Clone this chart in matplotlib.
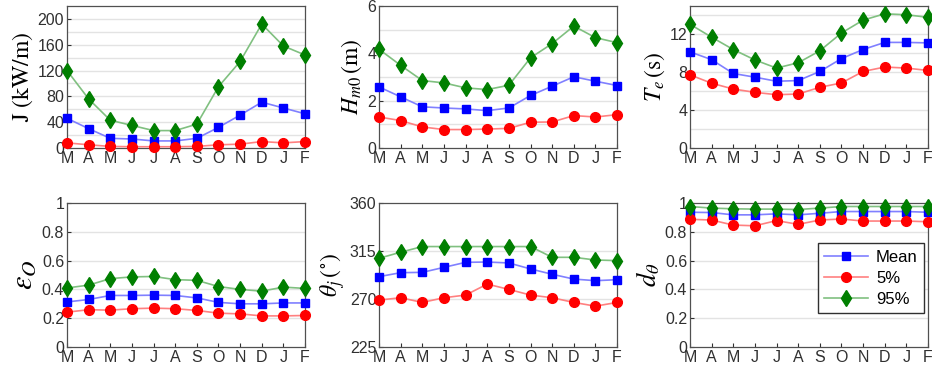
import matplotlib
matplotlib.use('Agg')
import matplotlib.pyplot as plt
import numpy as np

months = ['M', 'A', 'M', 'J', 'J', 'A', 'S', 'O', 'N', 'D', 'J', 'F']

# wave power J (kW/m)
J_mean = [46, 30, 15, 14, 11, 11, 15, 32, 51, 71, 62, 53]
J_p5 = [8, 5, 2.5, 2, 2, 2, 2.5, 5, 6, 10, 8, 10]
J_p95 = [120, 76, 43, 35, 27, 27, 37, 95, 134, 192, 158, 144]

# significant wave height Hm0 (m)
H_mean = [2.58, 2.16, 1.74, 1.69, 1.65, 1.58, 1.69, 2.22, 2.61, 3.01, 2.82, 2.64]
H_p5 = [1.31, 1.16, 0.89, 0.78, 0.78, 0.80, 0.83, 1.09, 1.10, 1.37, 1.31, 1.41]
H_p95 = [4.17, 3.49, 2.85, 2.75, 2.54, 2.47, 2.65, 3.81, 4.41, 5.15, 4.66, 4.45]

# energy period Te (s)
T_mean = [10.15, 9.33, 7.87, 7.48, 7.05, 7.12, 8.08, 9.44, 10.4, 11.15, 11.15, 11.1]
T_p5 = [7.73, 6.84, 6.23, 5.88, 5.63, 5.7, 6.41, 6.87, 8.08, 8.55, 8.44, 8.19]
T_p95 = [13.07, 11.7, 10.4, 9.3, 8.44, 9.0, 10.26, 12.14, 13.5, 14.17, 14.07, 13.8]

# spectral width eps_O
E_mean = [0.313, 0.33, 0.358, 0.358, 0.36, 0.358, 0.341, 0.31, 0.30, 0.30, 0.306, 0.306]
E_p5 = [0.242, 0.259, 0.256, 0.266, 0.27, 0.266, 0.254, 0.235, 0.23, 0.216, 0.216, 0.219]
E_p95 = [0.41, 0.43, 0.475, 0.487, 0.49, 0.468, 0.463, 0.42, 0.40, 0.388, 0.416, 0.407]

# direction theta_j (deg)
D_mean = [291, 294.7, 295, 299.7, 304.4, 304.7, 303.8, 298.2, 293.2, 288.7, 287.2, 288.1]
D_p5 = [269, 271.2, 266.8, 271.2, 273.7, 284, 279, 273.7, 271.2, 266.8, 263.3, 266.8]
D_p95 = [308.2, 313.9, 319.2, 319.2, 319.2, 319.2, 319.2, 319.2, 309.1, 309.1, 306.6, 306]

# directionality coefficient d_theta
d_mean = [0.936, 0.934, 0.918, 0.918, 0.925, 0.918, 0.929, 0.941, 0.941, 0.941, 0.941, 0.936]
d_p5 = [0.887, 0.882, 0.847, 0.842, 0.878, 0.852, 0.882, 0.889, 0.875, 0.875, 0.875, 0.87]
d_p95 = [0.976, 0.965, 0.96, 0.958, 0.958, 0.955, 0.965, 0.976, 0.976, 0.976, 0.976, 0.976]

plt.rcParams['font.family'] = ['Liberation Sans', 'DejaVu Sans']
plt.rcParams['mathtext.fontset'] = 'stix'

fig = plt.figure(figsize=(9.32, 3.71), dpi=100)

lefts = [0.0719, 0.4067, 0.7403]
w = 0.2554
rows = [(0.601, 0.383), (0.0647, 0.388)]

panels = [
    (J_mean, J_p5, J_p95, r'$\mathrm{J\ (kW/m)}$', (0, 220), np.arange(0, 201, 40), 20, 17),
    (H_mean, H_p5, H_p95, r'$H_{m0}\,(\mathrm{m})$', (0, 6), np.arange(0, 7, 2), 1, 17),
    (T_mean, T_p5, T_p95, r'$T_e\,(\mathrm{s})$', (0, 15), np.arange(0, 13, 4), 2, 17),
    (E_mean, E_p5, E_p95, r'$\epsilon_O$', (0, 1), np.arange(0, 1.01, 0.2), 0.2, 22),
    (D_mean, D_p5, D_p95, r'$\theta_j\,(^{\circ})$', (225, 360), np.arange(225, 361, 45), 45, 17),
    (d_mean, d_p5, d_p95, r'$d_\theta$', (0, 1), np.arange(0, 1.01, 0.2), 0.2, 19),
]

x = np.arange(1, 13)
for k, (m, p5, p95, lab, ylim, yt, gstep, lsize) in enumerate(panels):
    r = k // 3
    c = k % 3
    ax = fig.add_axes([lefts[c], rows[r][0], w, rows[r][1]])
    ax.plot(x, m, '-s', color='#8080ff', mfc='#0000ff', mec='#0000ff', ms=6, lw=1.2,
            label='Mean', clip_on=False, zorder=3)
    ax.plot(x, p5, '-o', color='#ff8080', mfc='#ff0000', mec='#ff0000', ms=7, lw=1.2,
            label='5%', clip_on=False, zorder=3)
    ax.plot(x, p95, '-d', color='#80c080', mfc='#007f00', mec='#007f00', ms=8, lw=1.2,
            label='95%', clip_on=False, zorder=3)
    ax.set_xlim(1, 12)
    ax.set_ylim(*ylim)
    ax.set_xticks(x)
    ax.set_xticklabels(months)
    ax.set_yticks(yt)
    ax.set_yticklabels(['%g' % v for v in yt])
    for g in np.arange(ylim[0] + gstep, ylim[1], gstep):
        ax.axhline(g, color='#e3e3e3', lw=1, zorder=0)
    ax.tick_params(direction='in', length=3, labelsize=11.5, colors='#303030', pad=2)
    for s in ax.spines.values():
        s.set_color('#505050')
        s.set_linewidth(0.9)
    ax.set_ylabel(lab, fontsize=lsize, labelpad=2)
    if k == 5:
        ax.legend(loc='lower right', bbox_to_anchor=(0.985, 0.235), fontsize=12,
                  fancybox=False, edgecolor='#303030', framealpha=1,
                  handlelength=2.6, borderpad=0.4, labelspacing=0.35,
                  handletextpad=0.5, borderaxespad=0)

plt.savefig('out.png', dpi=100)
